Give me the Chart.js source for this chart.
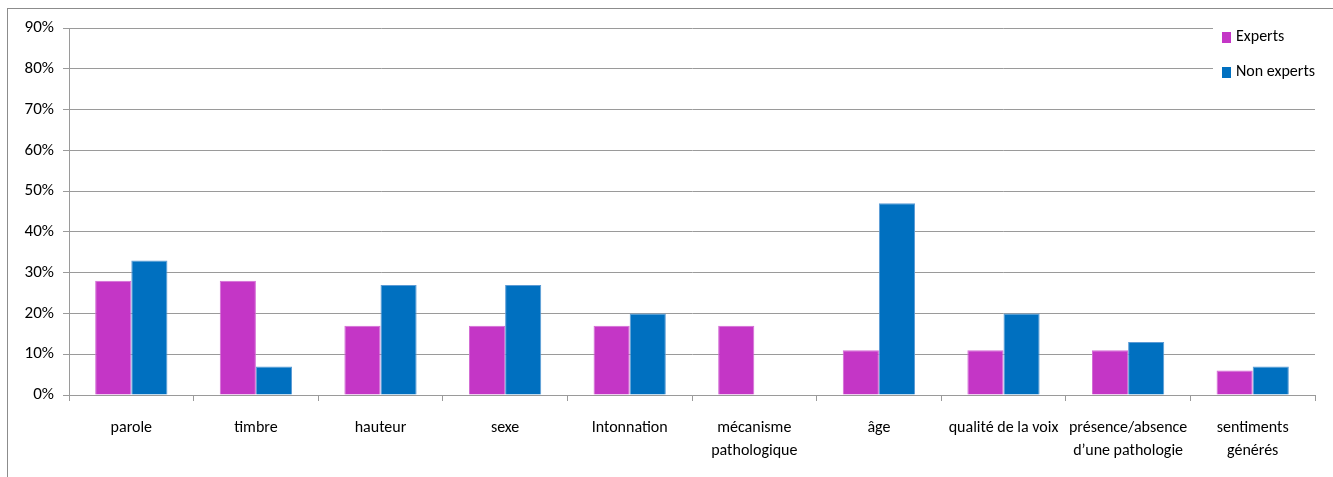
<!DOCTYPE html>
<html lang="fr">
<head>
    <meta charset="UTF-8" />
    <title>Experts / Non experts</title>
    <script src="https://cdn.jsdelivr.net/npm/chart.js"></script>
    <style>
        html, body { margin: 0; padding: 0; background: #fff; }
        #wrap { width: 1333px; height: 477px; position: relative; }
    </style>
</head>
<body>
    <div id="wrap"><canvas id="critChart" width="1333" height="477"></canvas></div>
    <script>
        // données (en %)
        const categories = [
            'parole', 'timbre', 'hauteur', 'sexe', 'Intonnation',
            ['mécanisme', 'pathologique'], 'âge', 'qualité de la voix',
            ['présence/absence', 'd\u2019une pathologie'], ['sentiments', 'générés']
        ];
        const experts = [28, 28, 17, 17, 17, 17, 11, 11, 11, 6];
        const nonExperts = [33, 7, 27, 27, 20, 0, 47, 20, 13, 7];
        const yTicks = [0, 10, 20, 30, 40, 50, 60, 70, 80, 90];

        const FONT = "Carlito, 'Liberation Sans Narrow', 'Open Sans', sans-serif";
        const GRID = '#9a9a9a';

        // cadre extérieur (coupé à droite et en bas comme sur l'original)
        const framePlugin = {
            id: 'frame',
            beforeDraw(chart) {
                const ctx = chart.ctx;
                ctx.save();
                ctx.strokeStyle = '#8c8c8c';
                ctx.lineWidth = 1;
                ctx.strokeRect(7.5, 8.5, 1400, 600);
                ctx.restore();
            }
        };

        // légende en haut à droite, dessinée par-dessus le quadrillage
        const legendPlugin = {
            id: 'cornerLegend',
            afterDraw(chart) {
                const ctx = chart.ctx;
                ctx.save();
                ctx.fillStyle = '#fff';
                ctx.fillRect(1213, 12, 119, 80);
                ctx.font = '16px ' + FONT;
                ctx.textBaseline = 'middle';
                chart.data.datasets.forEach((ds, i) => {
                    const y = 37 + i * 35;
                    ctx.fillStyle = ds.backgroundColor;
                    ctx.fillRect(1222, y - 5, 9, 11);
                    ctx.fillStyle = '#000';
                    ctx.fillText(ds.label, 1236, y);
                });
                ctx.restore();
            }
        };

        function renderChart() {
            const ctx = document.getElementById('critChart').getContext('2d');
            new Chart(ctx, {
                type: 'bar',
                data: {
                    labels: categories,
                    datasets: [{
                        label: 'Experts',
                        data: experts,
                        backgroundColor: '#c436c6',
                        borderColor: '#d36ad4',
                        borderWidth: 1,
                        categoryPercentage: 0.58,
                        barPercentage: 1.0
                    }, {
                        label: 'Non experts',
                        data: nonExperts,
                        backgroundColor: '#0070c0',
                        borderColor: '#5b9bd5',
                        borderWidth: 1,
                        categoryPercentage: 0.58,
                        barPercentage: 1.0
                    }]
                },
                options: {
                    responsive: false,
                    animation: false,
                    layout: { padding: { left: 0, top: 28, right: 18, bottom: 0 } },
                    plugins: {
                        legend: { display: false },
                        tooltip: { enabled: false }
                    },
                    scales: {
                        x: {
                            afterFit(scale) { scale.height = 82; },
                            grid: {
                                drawOnChartArea: false,
                                drawTicks: true,
                                tickLength: 6,
                                color: GRID,
                                offset: true
                            },
                            border: { color: GRID, width: 1 },
                            ticks: {
                                color: '#000',
                                padding: 16,
                                maxRotation: 0,
                                autoSkip: false,
                                font: { family: FONT, size: 16, lineHeight: 1.4 }
                            }
                        },
                        y: {
                            min: 0,
                            max: 90,
                            afterFit(scale) { scale.width = 69; },
                            afterBuildTicks(scale) {
                                scale.ticks = yTicks.map(v => ({ value: v }));
                            },
                            grid: {
                                color: GRID,
                                lineWidth: 1,
                                drawTicks: true,
                                tickLength: 6
                            },
                            border: { color: GRID, width: 1 },
                            ticks: {
                                color: '#000',
                                padding: 9,
                                font: { family: FONT, size: 17 },
                                callback: v => v + '%'
                            }
                        }
                    }
                },
                plugins: [framePlugin, legendPlugin]
            });
        }

        renderChart();
    </script>
</body>
</html>
